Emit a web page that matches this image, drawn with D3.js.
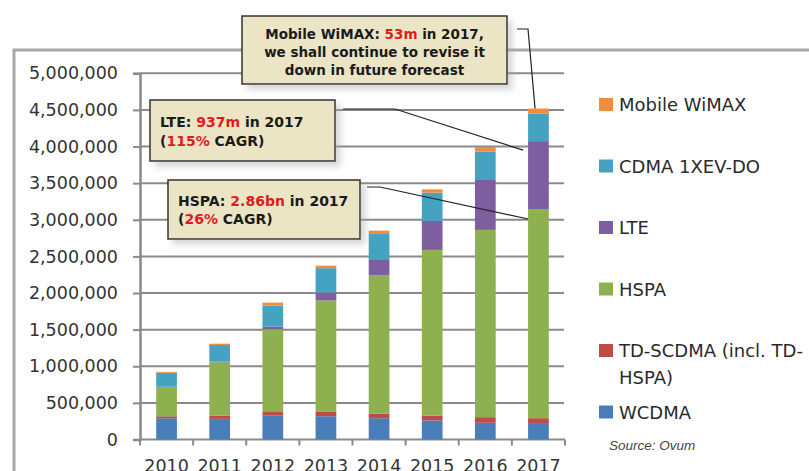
<!DOCTYPE html>
<html>
<head>
<meta charset="utf-8">
<script src="https://cdn.jsdelivr.net/npm/d3@7"></script>
<style>
  body { margin: 0; background: #fff; }
  svg { display: block; }
</style>
</head>
<body>
<div id="chart"></div>
<script>
var years    = ["2010", "2011", "2012", "2013", "2014", "2015", "2016", "2017"]
var wcdma    = [290, 282, 325, 318, 291, 259, 228, 213]
var tdscdma  = [27, 45, 50, 59, 63, 68, 77, 78]
var hspa     = [400, 726, 1131, 1521, 1890, 2262, 2557, 2856]
var lte      = [3, 10, 36, 109, 218, 395, 681, 927]
var cdma     = [191, 227, 286, 332, 354, 386, 386, 377]
var wimax    = [13, 18, 41, 35, 36, 45, 64, 68]
var seriesKeys   = ["WCDMA", "TD-SCDMA", "HSPA", "LTE", "CDMA", "WiMAX"]
var seriesColors = ["#4a7ebb", "#be4b48", "#8fb04f", "#7d5fa0", "#45a3c1", "#f08c3c"]
var legendLabels = [
   ["Mobile WiMAX"],
   ["CDMA 1XEV-DO"],
   ["LTE"],
   ["HSPA"],
   ["TD-SCDMA (incl. TD-", "HSPA)"],
   ["WCDMA"]
]
var legendColors = ["#f08c3c", "#45a3c1", "#7d5fa0", "#8fb04f", "#be4b48", "#4a7ebb"]
var yTicks = d3.range(0, 5000001, 500000)

// global variables
var svgWidth  = 809
var svgHeight = 471
var red = "#e01b1b"

var svg = d3.select("#chart")
.append("svg")
.attr("width", svgWidth)
.attr("height", svgHeight)

// drop shadow for the callout boxes
var filter = svg.append("defs").append("filter")
.attr("id", "shadow")
.attr("x", "-10%").attr("y", "-10%")
.attr("width", "130%").attr("height", "140%")
filter.append("feDropShadow")
.attr("dx", 5).attr("dy", 5)
.attr("stdDeviation", 3)
.attr("flood-color", "#a8a8a8")
.attr("flood-opacity", 0.45)

// outer frame
svg.append("path")
.attr("d", "M14," + svgHeight + "V50H" + svgWidth)
.attr("fill", "none")
.attr("stroke", "#a8a8a8")
.attr("stroke-width", 3)

// build table for the stack
var table = years.map(function(y, i){
   return {
      year: y,
      "WCDMA": wcdma[i] * 1000,
      "TD-SCDMA": tdscdma[i] * 1000,
      "HSPA": hspa[i] * 1000,
      "LTE": lte[i] * 1000,
      "CDMA": cdma[i] * 1000,
      "WiMAX": wimax[i] * 1000
   }
})
var stacked = d3.stack().keys(seriesKeys)(table)

// scales
var x = d3.scaleBand()
.domain(years)
.range([140, 565])
.paddingInner(0.61)
.paddingOuter(0.305)

var y = d3.scaleLinear()
.domain([0, 5000000])
.range([439.5, 73.3])

// gridlines
svg.append("g")
.selectAll("line")
.data(yTicks.slice(1))
.enter()
.append("line")
.attr("x1", 140)
.attr("x2", 564)
.attr("y1", function(d){ return y(d) })
.attr("y2", function(d){ return y(d) })
.attr("stroke", "#8a8a8a")
.attr("stroke-width", 2)

// y axis
var yAxis = svg.append("g")
.attr("transform", "translate(140,0)")
.call(d3.axisLeft(y).tickValues(yTicks).tickFormat(d3.format(",")).tickSize(7).tickPadding(15))
yAxis.select(".domain").attr("stroke", "#8a8a8a").attr("stroke-width", 2.5)
yAxis.selectAll(".tick line").attr("stroke", "#8a8a8a").attr("stroke-width", 2)
yAxis.selectAll("text")
.attr("font-family", "DejaVu Sans")
.attr("font-size", "17.5px")
.attr("fill", "#333")

// x axis: baseline, ticks at band edges, labels at band centers
svg.append("line")
.attr("x1", 140).attr("x2", 565)
.attr("y1", y(0)).attr("y2", y(0))
.attr("stroke", "#8a8a8a")
.attr("stroke-width", 2)

var edges = years.map(function(d){ return x(d) - x.step() * x.paddingOuter() })
edges.push(565)
svg.append("g")
.selectAll("line")
.data(edges)
.enter()
.append("line")
.attr("x1", function(d){ return d })
.attr("x2", function(d){ return d })
.attr("y1", y(0))
.attr("y2", y(0) + 6)
.attr("stroke", "#8a8a8a")
.attr("stroke-width", 2)

svg.append("g")
.selectAll("text")
.data(years)
.enter()
.append("text")
.attr("x", function(d){ return x(d) + x.bandwidth() / 2 })
.attr("y", 472)
.attr("text-anchor", "middle")
.attr("font-family", "DejaVu Sans")
.attr("font-size", "17.5px")
.attr("fill", "#333")
.text(function(d){ return d })

// bars
svg.append("g")
.selectAll("g")
.data(stacked)
.enter()
.append("g")
.attr("fill", function(d, i){ return seriesColors[i] })
.selectAll("rect")
.data(function(d){ return d })
.enter()
.append("rect")
.attr("x", function(d){ return x(d.data.year) })
.attr("width", x.bandwidth())
.attr("y", function(d){ return y(d[1]) })
.attr("height", function(d){ return y(d[0]) - y(d[1]) })

// legend
var legend = svg.append("g")
.selectAll("g")
.data(legendLabels)
.enter()
.append("g")
.attr("transform", function(d, i){ return "translate(599," + (105 + i * 61.5) + ")" })

legend.append("rect")
.attr("x", 0).attr("y", -7)
.attr("width", 14).attr("height", 13)
.attr("fill", function(d, i){ return legendColors[i] })

legend.selectAll("text")
.data(function(d){ return d })
.enter()
.append("text")
.attr("x", 20)
.attr("y", function(d, j){ return 6 + j * 27 })
.attr("font-family", "DejaVu Sans")
.attr("font-size", "18px")
.attr("fill", "#2a2a2a")
.text(function(d){ return d })

svg.append("text")
.attr("x", 609)
.attr("y", 450)
.attr("font-family", "Liberation Sans")
.attr("font-style", "italic")
.attr("font-size", "13.5px")
.attr("fill", "#444")
.text("Source: Ovum")

// callouts
var i17 = years.length - 1
var top17  = y(stacked[5][i17][1])
var lte17  = y(stacked[3][i17][1])
var hspa17 = y(stacked[2][i17][1])
var bx17   = x("2017")

function leader(points) {
   svg.append("path")
   .attr("d", d3.line()(points))
   .attr("fill", "none")
   .attr("stroke", "#222")
   .attr("stroke-width", 1.2)
}
leader([[517, 29], [528, 29], [bx17 + 7, top17]])
leader([[343, 109], [395, 109], [bx17 - 5, lte17 + 9]])
leader([[367, 187], [380, 187], [bx17, hspa17 + 10]])

function callout(bx, by, bw, bh, lines, tx, anchor, size, lineGap, firstBase) {
   var g = svg.append("g")
   g.append("rect")
   .attr("x", bx).attr("y", by)
   .attr("width", bw).attr("height", bh)
   .attr("fill", "#ebe5c5")
   .attr("stroke", "#333")
   .attr("stroke-width", 1.5)
   .attr("filter", "url(#shadow)")
   lines.forEach(function(parts, j){
      var t = g.append("text")
      .attr("x", tx)
      .attr("y", firstBase + j * lineGap)
      .attr("text-anchor", anchor)
      .attr("font-family", "DejaVu Sans")
      .attr("font-weight", "bold")
      .attr("font-size", size)
      .attr("fill", "#1a1a1a")
      parts.forEach(function(p){
         t.append("tspan")
         .attr("fill", p[1] ? red : "#1a1a1a")
         .text(p[0])
      })
   })
}

callout(242, 16, 265, 68, [
   [["Mobile WiMAX: "], ["53m", 1], [" in 2017,"]],
   [["we shall continue to revise it"]],
   [["down in future forecast"]]
], 374.5, "middle", "13.5px", 18, 38.5)

callout(150, 100, 185, 61, [
   [["LTE: "], ["937m", 1], [" in 2017"]],
   [["("], ["115%", 1], [" CAGR)"]]
], 160, "start", "14px", 19, 127)

callout(168, 180, 192, 59, [
   [["HSPA: "], ["2.86bn", 1], [" in 2017"]],
   [["("], ["26%", 1], [" CAGR)"]]
], 178, "start", "14px", 18.5, 205.5)
</script>
</body>
</html>
